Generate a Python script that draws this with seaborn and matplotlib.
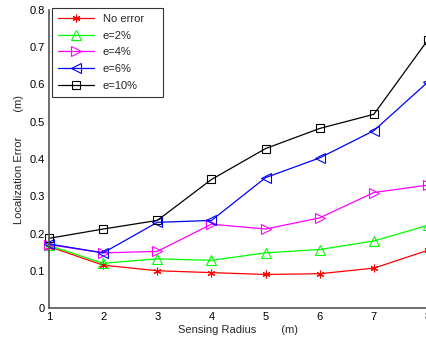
import matplotlib
matplotlib.use("Agg")
import matplotlib.pyplot as plt
import seaborn as sns
import pandas as pd

radius = [1, 2, 3, 4, 5, 6, 7, 8]
no_error = [0.165, 0.115, 0.100, 0.095, 0.090, 0.092, 0.107, 0.155]
e2 = [0.168, 0.120, 0.132, 0.128, 0.148, 0.157, 0.180, 0.222]
e4 = [0.170, 0.148, 0.152, 0.225, 0.212, 0.242, 0.310, 0.330]
e6 = [0.172, 0.148, 0.230, 0.235, 0.350, 0.403, 0.476, 0.607]
e10 = [0.187, 0.212, 0.235, 0.345, 0.428, 0.482, 0.520, 0.720]
labels = ["No error", "e=2%", "e=4%", "e=6%", "e=10%"]
series = [no_error, e2, e4, e6, e10]
yticks = [0, 0.1, 0.2, 0.3, 0.4, 0.5, 0.6, 0.7, 0.8]
ytick_labels = ["0", "0.1", "0.2", "0.3", "0.4", "0.5", "0.6", "0.7", "0.8"]

colors = ["#ff0000", "#00ff00", "#ff00ff", "#0000ff", "#000000"]
markers = [(6, 2, 0), "^", ">", "<", "s"]
msizes = [5.5, 6.5, 6.5, 6.5, 6]

sns.set_style("white")
plt.rcParams["font.family"] = ["Liberation Sans", "DejaVu Sans"]

fig = plt.figure(figsize=(4.27, 3.42), dpi=100)
ax = fig.add_axes([49 / 427, 34 / 342, 379 / 427, 298 / 342])

for lab, vals, c, m, ms in zip(labels, series, colors, markers, msizes):
    df = pd.DataFrame({"x": radius, "y": vals})
    sns.lineplot(data=df, x="x", y="y", ax=ax, color=c, marker=m,
                 markersize=ms, markerfacecolor="none", markeredgecolor=c,
                 markeredgewidth=0.8, linewidth=0.9, label=lab, clip_on=False)

ax.set_xlim(1, 8)
ax.set_ylim(0, 0.8)
ax.set_xticks(radius)
ax.set_xticklabels([str(r) for r in radius])
ax.set_yticks(yticks)
ax.set_yticklabels(ytick_labels)
ax.tick_params(direction="in", length=3, labelsize=8, width=0.8, colors="black", pad=3)
for s in ["top", "right"]:
    ax.spines[s].set_visible(False)
for s in ["left", "bottom"]:
    ax.spines[s].set_color("#555555")
    ax.spines[s].set_linewidth(1.2)
ax.set_xlabel("Sensing Radius        (m)", fontsize=8, labelpad=2)
ax.set_ylabel("Localization Error        (m)", fontsize=8, labelpad=4)

leg = ax.legend(loc="upper left", bbox_to_anchor=(0.008, 0.715, 0.293, 0.292),
                mode="expand", fontsize=8, frameon=True, fancybox=False,
                edgecolor="black", borderpad=0.55, labelspacing=0.6,
                handlelength=3.2, borderaxespad=0.0)
leg.get_frame().set_linewidth(0.8)

fig.savefig("out.png", dpi=100)
